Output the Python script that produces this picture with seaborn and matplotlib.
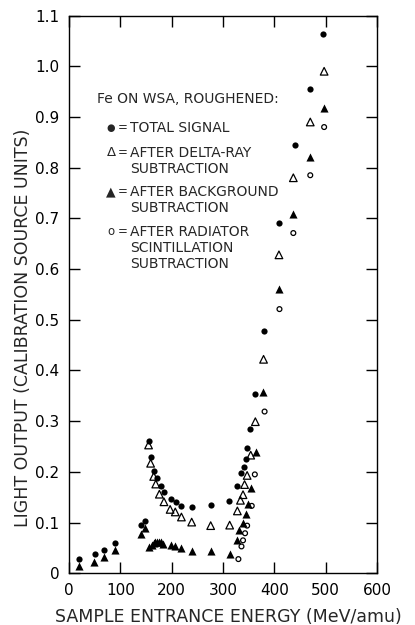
import matplotlib
matplotlib.use("Agg")
import matplotlib.pyplot as plt
import seaborn as sns
import pandas as pd

# Total signal (filled circles)
total_E = [19, 50, 69, 90, 141, 148, 155, 160, 165, 171, 179, 185, 198, 208, 218,
           239, 276, 312, 328, 335, 341, 345, 347, 352, 362, 379, 410, 440, 470, 495]
total_v = [0.028, 0.038, 0.046, 0.060, 0.095, 0.104, 0.260, 0.229, 0.202, 0.187,
           0.173, 0.160, 0.147, 0.140, 0.133, 0.130, 0.135, 0.143, 0.172, 0.198,
           0.210, 0.225, 0.247, 0.285, 0.354, 0.477, 0.691, 0.844, 0.955, 1.063]

# After delta-ray subtraction (open triangles)
delta_E = [155, 159, 165, 169, 176, 185, 197, 207, 219, 239, 276, 313, 328, 334,
           339, 342, 347, 354, 363, 379, 409, 437, 470, 497]
delta_v = [0.253, 0.217, 0.191, 0.176, 0.156, 0.141, 0.126, 0.121, 0.111, 0.101,
           0.094, 0.095, 0.123, 0.144, 0.155, 0.175, 0.193, 0.233, 0.299, 0.422,
           0.628, 0.780, 0.890, 0.990]

# After background subtraction (filled triangles)
bkg_E = [20, 49, 69, 90, 141, 149, 156, 161, 165, 168, 172, 176, 180, 184, 198,
         206, 218, 239, 277, 314, 328, 332, 339, 345, 348, 354, 364, 378, 409,
         437, 470, 497]
bkg_v = [0.014, 0.022, 0.032, 0.045, 0.078, 0.089, 0.051, 0.055, 0.059, 0.061,
         0.062, 0.062, 0.061, 0.058, 0.055, 0.054, 0.050, 0.043, 0.043, 0.039,
         0.065, 0.086, 0.100, 0.117, 0.137, 0.168, 0.239, 0.358, 0.560, 0.709,
         0.821, 0.917]

# After radiator scintillation subtraction (open circles)
rad_E = [330, 336, 339, 343, 347, 356, 362, 381, 410, 437, 470, 497]
rad_v = [0.028, 0.053, 0.065, 0.079, 0.094, 0.133, 0.195, 0.319, 0.521, 0.671,
         0.785, 0.880]

x_ticks = [0, 100, 200, 300, 400, 500, 600]
y_ticks = [0, 0.1, 0.2, 0.3, 0.4, 0.5, 0.6, 0.7, 0.8, 0.9, 1.0, 1.1]
y_tick_labels = ["0", "0.1", "0.2", "0.3", "0.4", "0.5", "0.6", "0.7", "0.8",
                 "0.9", "1.0", "1.1"]

legend_title = "Fe ON WSA, ROUGHENED:"
legend_symbols = ["\u25CF", "\u0394", "\u25B2", "o"]
legend_symbol_sizes = [7, 9.5, 9, 8.5]
legend_texts = [["TOTAL SIGNAL"],
                ["AFTER DELTA-RAY", "SUBTRACTION"],
                ["AFTER BACKGROUND", "SUBTRACTION"],
                ["AFTER RADIATOR", "SCINTILLATION", "SUBTRACTION"]]

sns.set_style("white")
plt.rcParams['font.family'] = ['DejaVu Sans']

fig = plt.figure(figsize=(4.15, 6.25), dpi=100)
ax = fig.add_axes([69 / 415, 1 - 573.3 / 625, 308 / 415, 557.8 / 625])

df_t = pd.DataFrame({"E": total_E, "v": total_v})
df_d = pd.DataFrame({"E": delta_E, "v": delta_v})
df_b = pd.DataFrame({"E": bkg_E, "v": bkg_v})
df_r = pd.DataFrame({"E": rad_E, "v": rad_v})

sns.scatterplot(data=df_t, x="E", y="v", ax=ax, marker="o", s=20,
                color="black", linewidth=0)
sns.scatterplot(data=df_d, x="E", y="v", ax=ax, marker="^", s=30,
                color="black", linewidth=0.9)
ax.collections[-1].set_facecolor("none")
ax.collections[-1].set_edgecolor("black")
sns.scatterplot(data=df_b, x="E", y="v", ax=ax, marker="^", s=34,
                color="black", linewidth=0)
sns.scatterplot(data=df_r, x="E", y="v", ax=ax, marker="o", s=12,
                color="black", linewidth=0.9)
ax.collections[-1].set_facecolor("none")
ax.collections[-1].set_edgecolor("black")

ax.set_xlim(0, 600)
ax.set_ylim(0, 1.1)
ax.set_xticks(x_ticks)
ax.set_xticklabels([str(t) for t in x_ticks])
ax.set_yticks(y_ticks)
ax.set_yticklabels(y_tick_labels)
ax.tick_params(axis="both", direction="in", length=8, width=1.0,
               labelsize=11, pad=7, color="black", labelcolor="black")
ax.tick_params(axis="y", right=True, left=True)
ax.tick_params(axis="x", top=True, bottom=True)
for sp in ax.spines.values():
    sp.set_visible(True)
    sp.set_color("black")
    sp.set_linewidth(1.0)

ax.set_xlabel("SAMPLE ENTRANCE ENERGY (MeV/amu)", fontsize=12.5)
ax.set_ylabel("LIGHT OUTPUT (CALIBRATION SOURCE UNITS)", fontsize=12.5)
ax.xaxis.set_label_coords(0.516, -0.062)
ax.yaxis.set_label_coords(-0.12, 0.44)


def fx(px):
    return (px - 69) / 308


def fy(py):
    return (573.3 - py) / 557.8


# legend block as text
ax.text(fx(97), fy(99), legend_title, transform=ax.transAxes,
        fontsize=10, va="center", ha="left")
block_y = [128, 153, 192, 232]
line_gap = 16
for sym, ssz, lines, y0 in zip(legend_symbols, legend_symbol_sizes,
                               legend_texts, block_y):
    ax.text(fx(111), fy(y0), sym, transform=ax.transAxes, fontsize=ssz,
            va="center", ha="center")
    ax.text(fx(123), fy(y0), "=", transform=ax.transAxes, fontsize=8.5,
            va="center", ha="center")
    for i, ln in enumerate(lines):
        ax.text(fx(130), fy(y0 + i * line_gap), ln, transform=ax.transAxes,
                fontsize=10, va="center", ha="left")

fig.savefig("out.png", dpi=100, facecolor="white")
